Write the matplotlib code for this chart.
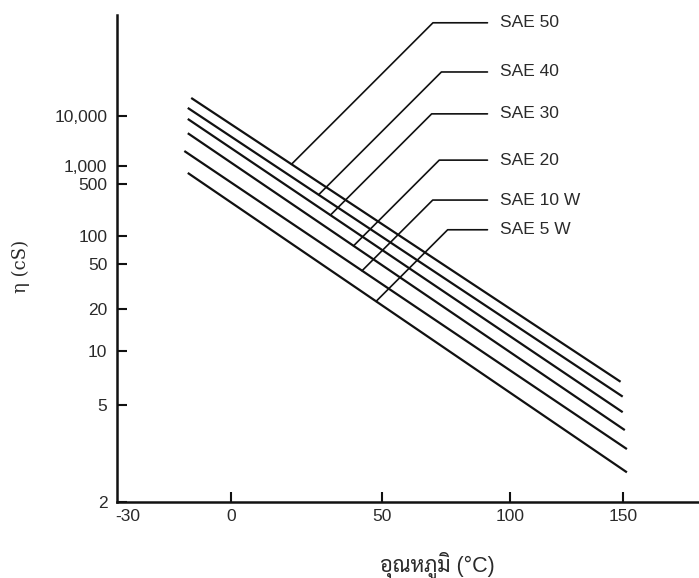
import numpy as np
import matplotlib
matplotlib.use('Agg')
import matplotlib.pyplot as plt

# oil grades and the two ends of each viscosity line
grades = ['SAE 50', 'SAE 40', 'SAE 30', 'SAE 20', 'SAE 10 W', 'SAE 5 W']
t_start = [-12, -13, -13, -13, -14, -13]
t_end = [149, 150, 150, 151, 152, 152]
visc_start = [27600, 15600, 8600, 4200, 1860, 760]
visc_end = [6.6, 5.5, 4.6, 3.8, 3.15, 2.55]

# temperature where each label's leader line meets its curve
t_leader = [19, 28, 32, 40, 43, 48]

xticks = [-30, 0, 50, 100, 150]
yticks = [2, 5, 10, 20, 50, 100, 500, 1000, 10000]
yticklabels = ['2', '5', '10', '20', '50', '100', '500', '1,000', '10,000']


# ASTM-style chart: log of absolute temperature vs log-log of viscosity
def t_fwd(t):
    return np.log10(np.asarray(t, dtype=float) + 273.15)

def t_inv(z):
    return 10 ** np.asarray(z, dtype=float) - 273.15

def v_fwd(v):
    v = np.maximum(np.asarray(v, dtype=float), 1e-6)
    return np.log10(np.log10(v + 0.7))

def v_inv(z):
    return 10 ** (10 ** np.asarray(z, dtype=float)) - 0.7


plt.rcParams['font.family'] = ['Liberation Sans', 'DejaVu Sans']

fig = plt.figure(figsize=(6.99, 5.78), dpi=100)
ax = fig.add_axes([117 / 699, (578 - 502) / 578, 582 / 699, 487 / 578])

ax.set_xscale('function', functions=(t_fwd, t_inv))
ax.set_yscale('function', functions=(v_fwd, v_inv))
ax.set_xlim(-32.8, 187.7)
ax.set_ylim(2, 1.47e7)

label_y = [0.984, 0.883, 0.797, 0.702, 0.620, 0.559]

for i in range(len(grades)):
    ax.plot([t_start[i], t_end[i]], [visc_start[i], visc_end[i]],
            color='#111111', lw=1.6, solid_capstyle='butt', zorder=3)

    # point on the curve for the leader line
    frac = (t_fwd(t_leader[i]) - t_fwd(t_start[i])) / (t_fwd(t_end[i]) - t_fwd(t_start[i]))
    zv = v_fwd(visc_start[i]) + frac * (v_fwd(visc_end[i]) - v_fwd(visc_start[i]))
    ax.annotate(grades[i], xy=(t_leader[i], v_inv(zv)), xycoords='data',
                xytext=(0.658, label_y[i]), textcoords='axes fraction',
                ha='left', va='center', fontsize=12.5, color='#2a2a2a',
                arrowprops=dict(arrowstyle='-', color='#111111', lw=1.2,
                                connectionstyle='angle,angleA=0,angleB=45,rad=0',
                                relpos=(0, 0.5), patchA=None,
                                shrinkA=9, shrinkB=0))

ax.set_xticks(xticks)
ax.set_xticklabels([str(t) for t in xticks])
ax.set_yticks(yticks)
ax.set_yticklabels(yticklabels)
ax.yaxis.set_minor_locator(matplotlib.ticker.NullLocator())
ax.xaxis.set_minor_locator(matplotlib.ticker.NullLocator())

ax.tick_params(axis='both', direction='in', length=7.5, width=1.5,
               labelsize=12.5, labelcolor='#2a2a2a', color='#111111')
ax.tick_params(axis='y', pad=7)
ax.tick_params(axis='x', pad=5)
ax.xaxis.get_major_ticks()[0].tick1line.set_visible(False)

for side in ['top', 'right']:
    ax.spines[side].set_visible(False)
for side in ['left', 'bottom']:
    ax.spines[side].set_linewidth(1.8)
    ax.spines[side].set_color('#111111')

ax.set_xlabel('อุณหภูมิ (°C)', fontsize=15.5, color='#2a2a2a',
              family=['Liberation Sans', 'Sarabun', 'Athiti', 'DejaVu Sans'])
ax.xaxis.set_label_coords(0.55, -0.102)
ax.set_ylabel('η (cS)', fontsize=13, color='#2a2a2a', family=['DejaVu Serif', 'DejaVu Sans'])
ax.yaxis.set_label_coords(-0.149, 0.484)

plt.savefig('out.png', dpi=100)
